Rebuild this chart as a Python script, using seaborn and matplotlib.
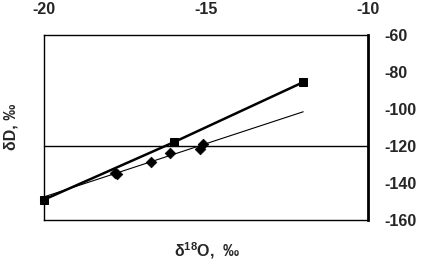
import numpy as np
import pandas as pd
import matplotlib
matplotlib.use("Agg")
import matplotlib.pyplot as plt
import seaborn as sns

# square series (connected by a thick line)
sq_x = [-20.0, -16.0, -12.0]
sq_y = [-149.0, -118.0, -85.5]

# diamond series
dm_x = [-17.8, -17.75, -16.7, -16.1, -15.2, -15.1]
dm_y = [-134.5, -135.3, -128.5, -123.8, -121.6, -119.0]

# thin trend line endpoints
tr_x = [-20.0, -12.0]
tr_y = [-147.5, -101.5]

ref_level = -120

xticks = [-20, -15, -10]
yticks = [-160, -140, -120, -100, -80, -60]

sns.set_theme(style="white")
plt.rcParams['font.family'] = ['Liberation Sans', 'DejaVu Sans']
plt.rcParams['axes.unicode_minus'] = False
plt.rcParams['mathtext.fontset'] = 'custom'
plt.rcParams['mathtext.rm'] = 'Liberation Sans:bold'
plt.rcParams['mathtext.it'] = 'Liberation Sans:bold'

fig = plt.figure(figsize=(4.25, 2.69), dpi=100)
ax = fig.add_axes([44 / 425, 49 / 269, 324 / 425, 185 / 269])

ax.axhline(ref_level, color="black", linewidth=1.0)

trend = pd.DataFrame({"x": tr_x, "y": tr_y})
sns.lineplot(data=trend, x="x", y="y", ax=ax, color="black", linewidth=0.8)

sq = pd.DataFrame({"x": sq_x, "y": sq_y})
sns.lineplot(data=sq, x="x", y="y", ax=ax, color="black", linewidth=1.8,
             marker="s", markersize=6, markeredgecolor="black")
for ln in ax.lines:
    ln.set_clip_on(False)

dm = pd.DataFrame({"x": dm_x, "y": dm_y})
sns.scatterplot(data=dm, x="x", y="y", ax=ax, color="black", marker="D",
                s=30, edgecolor="black", zorder=5)

ax.set_xlim(-20, -10)
ax.set_ylim(-160, -60)
ax.set_xticks(xticks)
ax.set_yticks(yticks)
ax.xaxis.tick_top()
ax.yaxis.tick_right()
ax.tick_params(axis="both", length=0, labelsize=11.5)
ax.tick_params(axis="x", pad=13)
ax.tick_params(axis="y", pad=12)
for lab in ax.get_xticklabels() + ax.get_yticklabels():
    lab.set_fontweight("bold")

for side in ["left", "top", "bottom"]:
    ax.spines[side].set_color("black")
    ax.spines[side].set_linewidth(1.0)
ax.spines["right"].set_color("black")
ax.spines["right"].set_linewidth(2.0)

ax.set_xlabel("")
ax.set_ylabel("")
fig.text(207 / 425, 1 - 251 / 269, r"δ$^{18}$O,  ‰", ha="center", va="center",
         fontsize=11.5, fontweight="bold")
fig.text(11 / 425, 1 - 127 / 269, "δD, ‰", ha="center", va="center",
         rotation=90, fontsize=11.5, fontweight="bold")

fig.savefig("out.png", dpi=100, facecolor="white")
